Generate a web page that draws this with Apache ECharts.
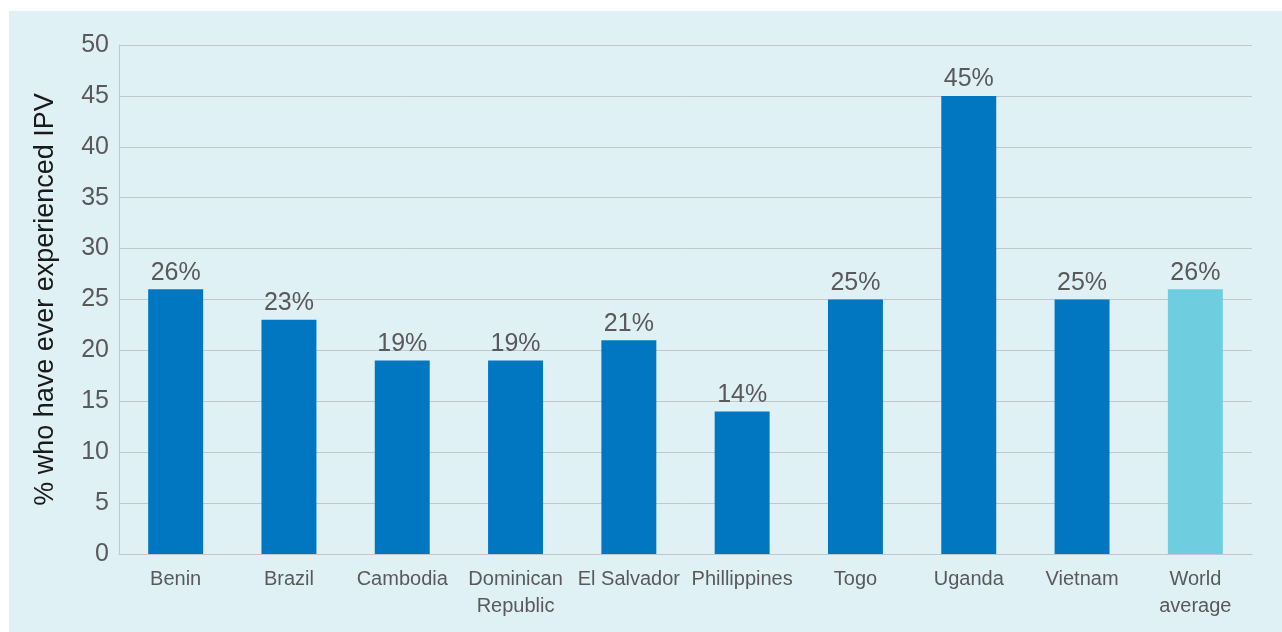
<!DOCTYPE html>
<html>
<head>
<meta charset="utf-8">
<script src="https://cdn.jsdelivr.net/npm/echarts@6/dist/echarts.min.js"></script>
<style>
  html, body { margin: 0; padding: 0; background: #ffffff; }
  #chart { position: absolute; left: 9px; top: 11px; width: 1273px; height: 621px; }
</style>
</head>
<body>
<div id="chart"></div>
<script>
// Share of women who have ever experienced intimate partner violence, by country
const categories = ['Benin', 'Brazil', 'Cambodia', 'Dominican\nRepublic', 'El Salvador',
                    'Phillippines', 'Togo', 'Uganda', 'Vietnam', 'World\naverage'];
const values = [26, 23, 19, 19, 21, 14, 25, 45, 25, 26];
const highlightCategory = 'World\naverage';
const yTitle = '% who have ever experienced IPV';

const COUNTRY_COLOR = '#0077c0';
const AVERAGE_COLOR = '#6fcde0';
const TEXT_COLOR = '#595959';
const LINE_COLOR = '#c3c7cb';
const FONT = 'Liberation Sans, Arial, sans-serif';

const chart = echarts.init(document.getElementById('chart'));
chart.setOption({
  backgroundColor: '#e0f1f6',
  animation: false,
  grid: { left: 110, top: 34, right: 30, bottom: 78, containLabel: false },
  xAxis: {
    type: 'category',
    data: categories,
    axisLine: { show: true, lineStyle: { color: LINE_COLOR, width: 1 } },
    axisTick: { show: false },
    axisLabel: {
      color: TEXT_COLOR, fontFamily: FONT, fontSize: 20,
      lineHeight: 27, margin: 12, interval: 0
    }
  },
  yAxis: {
    type: 'value',
    min: 0, max: 50, interval: 5,
    name: yTitle,
    nameLocation: 'middle',
    nameGap: 60,
    nameTextStyle: { color: '#1a1a1a', fontFamily: FONT, fontSize: 27 },
    axisLine: { show: true, lineStyle: { color: LINE_COLOR, width: 1 } },
    axisTick: { show: false },
    axisLabel: { color: TEXT_COLOR, fontFamily: FONT, fontSize: 25, margin: 10 },
    splitLine: { show: true, lineStyle: { color: LINE_COLOR, width: 1 } }
  },
  series: [{
    type: 'bar',
    data: values.map((v, i) => ({
      value: v,
      itemStyle: { color: categories[i] === highlightCategory ? AVERAGE_COLOR : COUNTRY_COLOR }
    })),
    barWidth: '48.5%',
    label: {
      show: true,
      position: 'top',
      distance: 4,
      formatter: p => p.value + '%',
      color: TEXT_COLOR,
      fontFamily: FONT,
      fontSize: 25
    }
  }]
});
</script>
</body>
</html>
